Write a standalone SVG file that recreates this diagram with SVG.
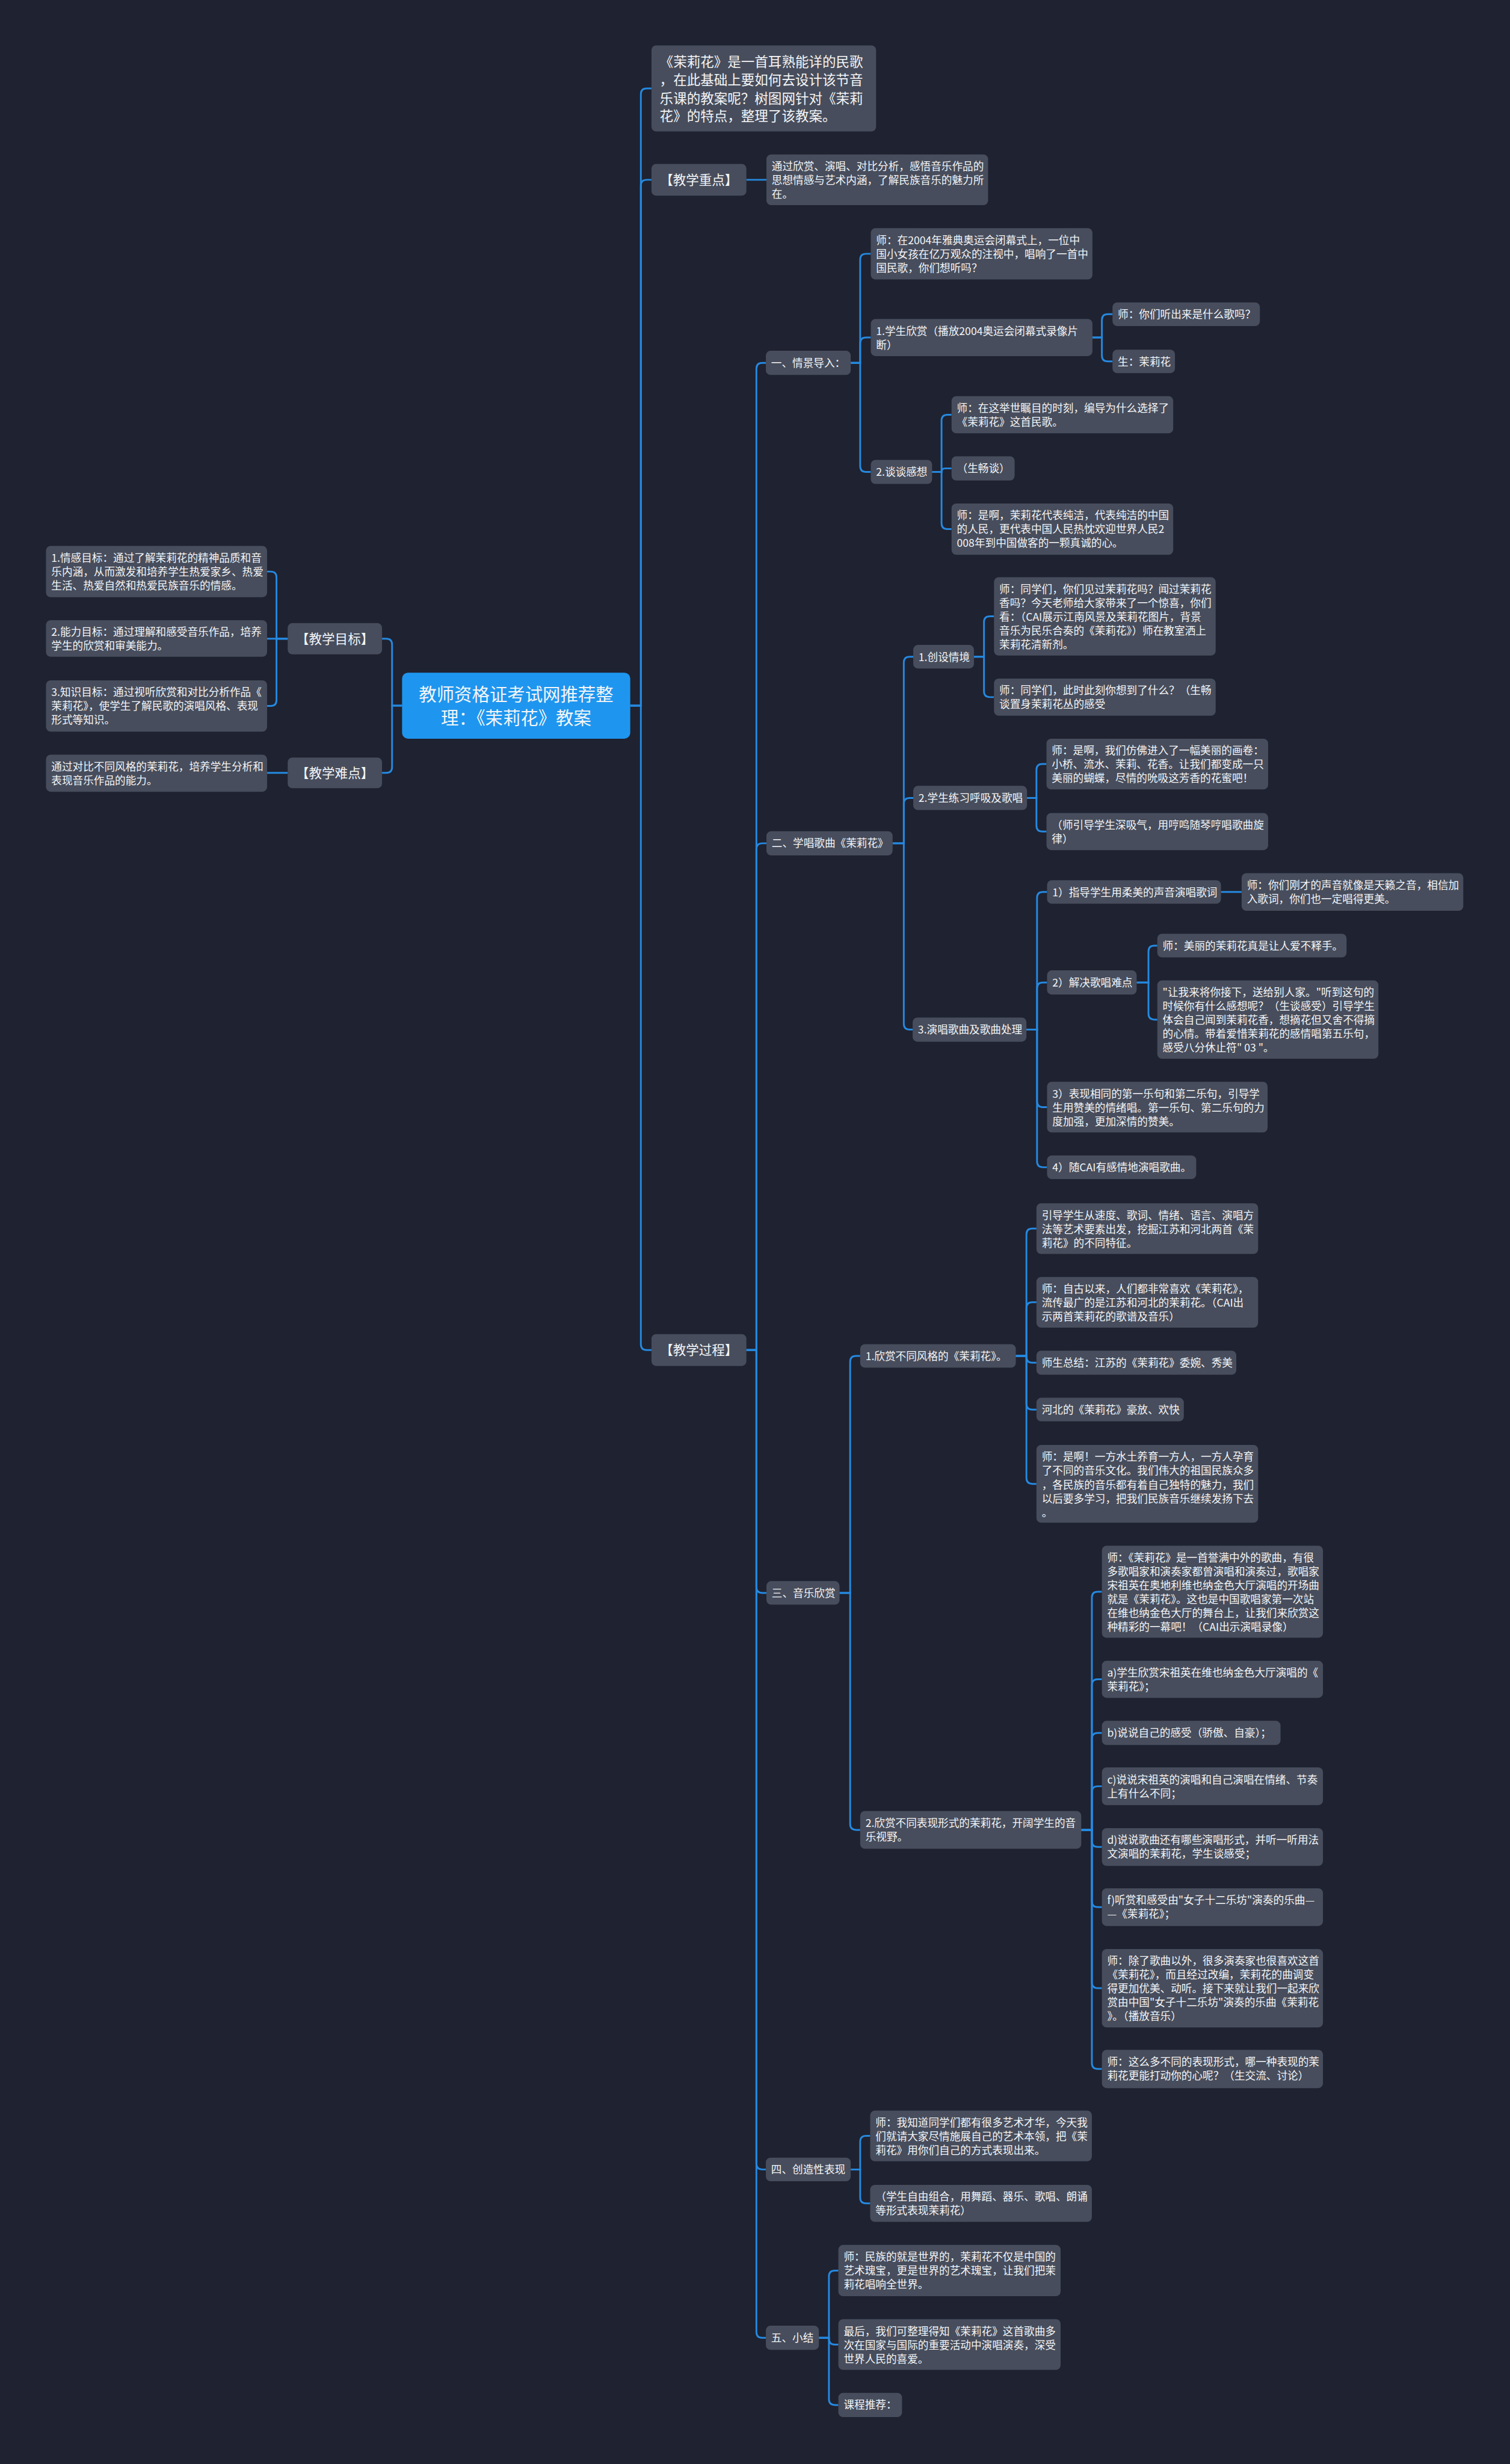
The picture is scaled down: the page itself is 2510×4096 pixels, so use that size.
<svg xmlns="http://www.w3.org/2000/svg" width="2510" height="4096" viewBox="0 0 2510 4096">
<style>
.n rect{fill:#474d5c}
.r rect{fill:#1e96ef}
text{font-family:"Noto Sans CJK SC","Microsoft YaHei",sans-serif;font-size:18px;fill:#f4f5f7}
.l1{font-size:22px}
.big{font-size:23px}
.root{font-size:30px}
.mid{text-anchor:middle}
.c path{fill:none;stroke:#2589e0;stroke-width:3}
</style>
<rect x="0" y="0" width="2510" height="4096" fill="#1f2230"/>
<g transform="scale(0.98)">
<g class="c" id="connectors">
<path d="M1069 1197H1087V160Q1087 150 1097 150H1105"/>
<path d="M1069 1197H1087V315Q1087 305 1097 305H1105"/>
<path d="M1069 1197H1087V2280Q1087 2290 1097 2290H1105"/>
<path d="M682 1197H665V1093.5Q665 1083.5 655 1083.5H648"/>
<path d="M682 1197H665V1301Q665 1311 655 1311H648"/>
<path d="M488 1083.5H469V979.5Q469 969.5 459 969.5H453"/>
<path d="M488 1083.5H453"/>
<path d="M488 1083.5H469V1187.5Q469 1197.5 459 1197.5H453"/>
<path d="M488 1311H453"/>
<path d="M1266 305H1300"/>
<path d="M1266 2290H1283V625.5Q1283 615.5 1293 615.5H1299"/>
<path d="M1266 2290H1283V1440.5Q1283 1430.5 1293 1430.5H1300"/>
<path d="M1266 2290H1283V2692Q1283 2702 1293 2702H1300"/>
<path d="M1266 2290H1283V3670Q1283 3680 1293 3680H1299"/>
<path d="M1266 2290H1283V3955.5Q1283 3965.5 1293 3965.5H1299"/>
<path d="M1443 615.5H1459V440.5Q1459 430.5 1469 430.5H1477"/>
<path d="M1443 615.5H1459V582.5Q1459 572.5 1469 572.5H1477"/>
<path d="M1443 615.5H1459V790.5Q1459 800.5 1469 800.5H1477"/>
<path d="M1853 572.5H1869V543Q1869 533 1879 533H1887"/>
<path d="M1853 572.5H1869V603Q1869 613 1879 613H1887"/>
<path d="M1581 800.5H1597V713.5Q1597 703.5 1607 703.5H1614"/>
<path d="M1581 800.5H1597Q1597 794.5 1603 794.5H1614"/>
<path d="M1581 800.5H1597V887.5Q1597 897.5 1607 897.5H1614"/>
<path d="M1514 1430.5H1533V1124Q1533 1114 1543 1114H1549"/>
<path d="M1514 1430.5H1533V1363.5Q1533 1353.5 1543 1353.5H1549"/>
<path d="M1514 1430.5H1533V1736.5Q1533 1746.5 1543 1746.5H1548"/>
<path d="M1652 1114H1669V1055.5Q1669 1045.5 1679 1045.5H1686"/>
<path d="M1652 1114H1669V1172.5Q1669 1182.5 1679 1182.5H1686"/>
<path d="M1742 1353.5H1758V1306Q1758 1296 1768 1296H1775"/>
<path d="M1742 1353.5H1758V1400.5Q1758 1410.5 1768 1410.5H1775"/>
<path d="M1741 1746.5H1759V1523Q1759 1513 1769 1513H1776"/>
<path d="M1741 1746.5H1759V1676.5Q1759 1666.5 1769 1666.5H1776"/>
<path d="M1741 1746.5H1759V1868Q1759 1878 1769 1878H1776"/>
<path d="M1741 1746.5H1759V1970Q1759 1980 1769 1980H1776"/>
<path d="M2071 1513H2106"/>
<path d="M1928 1666.5H1948V1614Q1948 1604 1958 1604H1963"/>
<path d="M1928 1666.5H1948V1719.5Q1948 1729.5 1958 1729.5H1963"/>
<path d="M1424 2702H1442V2310Q1442 2300 1452 2300H1459"/>
<path d="M1424 2702H1442V3094Q1442 3104 1452 3104H1459"/>
<path d="M1723 2300H1741V2094Q1741 2084 1751 2084H1758"/>
<path d="M1723 2300H1741V2219Q1741 2209 1751 2209H1758"/>
<path d="M1723 2300H1741V2301.5Q1741 2311.5 1751 2311.5H1758"/>
<path d="M1723 2300H1741V2381Q1741 2391 1751 2391H1758"/>
<path d="M1723 2300H1741V2507Q1741 2517 1751 2517H1758"/>
<path d="M1834 3104H1852V2710Q1852 2700 1862 2700H1869"/>
<path d="M1834 3104H1852V2858.5Q1852 2848.5 1862 2848.5H1869"/>
<path d="M1834 3104H1852V2949.5Q1852 2939.5 1862 2939.5H1869"/>
<path d="M1834 3104H1852V3040Q1852 3030 1862 3030H1869"/>
<path d="M1834 3104H1852V3123Q1852 3133 1862 3133H1869"/>
<path d="M1834 3104H1852V3225Q1852 3235 1862 3235H1869"/>
<path d="M1834 3104H1852V3362.5Q1852 3372.5 1862 3372.5H1869"/>
<path d="M1834 3104H1852V3499.5Q1852 3509.5 1862 3509.5H1869"/>
<path d="M1443 3680H1459V3633Q1459 3623 1469 3623H1476"/>
<path d="M1443 3680H1459V3727.5Q1459 3737.5 1469 3737.5H1476"/>
<path d="M1389 3965.5H1406V3861.5Q1406 3851.5 1416 3851.5H1422"/>
<path d="M1389 3965.5H1406V3967Q1406 3977 1416 3977H1422"/>
<path d="M1389 3965.5H1406V4069.5Q1406 4079.5 1416 4079.5H1422"/>
</g>

<g id="root" class="r"><rect x="682" y="1141" width="387" height="112" rx="10"/>
<text class="root mid"><tspan x="875.5" y="1189">教师资格证考试网推荐整</tspan><tspan x="875.5" y="1229">理：《茉莉花》教案</tspan></text></g>

<g id="intro" class="n"><rect x="1105" y="77" width="381" height="146" rx="8"/>
<text class="big"><tspan x="1119" y="113">《茉莉花》是一首耳熟能详的民歌</tspan><tspan x="1119" y="144">，在此基础上要如何去设计该节音</tspan><tspan x="1119" y="175">乐课的教案呢？树图网针对《茉莉</tspan><tspan x="1119" y="205">花》的特点，整理了该教案。</tspan></text></g>

<g id="zhongdian" class="n"><rect x="1105" y="278" width="161" height="54" rx="8"/>
<text class="l1 mid" x="1185.5" y="313">【教学重点】</text></g>
<g id="zhongdian-1" class="n"><rect x="1300" y="262" width="376" height="86" rx="8"/>
<text><tspan x="1309" y="289">通过欣赏、演唱、对比分析，感悟音乐作品的</tspan><tspan x="1309" y="312.5">思想情感与艺术内涵，了解民族音乐的魅力所</tspan><tspan x="1309" y="336">在。</tspan></text></g>

<g id="mubiao" class="n"><rect x="488" y="1057" width="160" height="53" rx="8"/>
<text class="l1 mid" x="568" y="1091.5">【教学目标】</text></g>
<g id="mubiao-1" class="n"><rect x="78" y="926" width="375" height="87" rx="8"/>
<text><tspan x="87" y="953">1.情感目标：通过了解茉莉花的精神品质和音</tspan><tspan x="87" y="976.5">乐内涵，从而激发和培养学生热爱家乡、热爱</tspan><tspan x="87" y="1000">生活、热爱自然和热爱民族音乐的情感。</tspan></text></g>
<g id="mubiao-2" class="n"><rect x="78" y="1052" width="375" height="62" rx="8"/>
<text><tspan x="87" y="1079">2.能力目标：通过理解和感受音乐作品，培养</tspan><tspan x="87" y="1102.5">学生的欣赏和审美能力。</tspan></text></g>
<g id="mubiao-3" class="n"><rect x="78" y="1154" width="375" height="87" rx="8"/>
<text><tspan x="87" y="1181">3.知识目标：通过视听欣赏和对比分析作品《</tspan><tspan x="87" y="1204.5">茉莉花》，使学生了解民歌的演唱风格、表现</tspan><tspan x="87" y="1228">形式等知识。</tspan></text></g>

<g id="nandian" class="n"><rect x="488" y="1285" width="160" height="52" rx="8"/>
<text class="l1 mid" x="568" y="1319">【教学难点】</text></g>
<g id="nandian-1" class="n"><rect x="78" y="1280" width="375" height="63" rx="8"/>
<text><tspan x="87" y="1307">通过对比不同风格的茉莉花，培养学生分析和</tspan><tspan x="87" y="1330.5">表现音乐作品的能力。</tspan></text></g>

<g id="guocheng" class="n"><rect x="1105" y="2263" width="161" height="54" rx="8"/>
<text class="l1 mid" x="1185.5" y="2298">【教学过程】</text></g>

<g id="s1" class="n"><rect x="1299" y="595" width="144" height="41" rx="8"/><text x="1308" y="622">一、情景导入：</text></g>
<g id="s1-a" class="n"><rect x="1477" y="387" width="376" height="87" rx="8"/>
<text><tspan x="1486" y="414">师：在2004年雅典奥运会闭幕式上，一位中</tspan><tspan x="1486" y="437.5">国小女孩在亿万观众的注视中，唱响了一首中</tspan><tspan x="1486" y="461">国民歌，你们想听吗？</tspan></text></g>
<g id="s1-b" class="n"><rect x="1477" y="541" width="376" height="63" rx="8"/>
<text><tspan x="1486" y="568">1.学生欣赏（播放2004奥运会闭幕式录像片</tspan><tspan x="1486" y="591.5">断）</tspan></text></g>
<g id="s1-b1" class="n"><rect x="1887" y="513" width="250" height="40" rx="8"/><text x="1896" y="540">师：你们听出来是什么歌吗？</text></g>
<g id="s1-b2" class="n"><rect x="1887" y="593" width="106" height="40" rx="8"/><text x="1896" y="620">生：茉莉花</text></g>
<g id="s1-c" class="n"><rect x="1477" y="780" width="104" height="41" rx="8"/><text x="1486" y="807">2.谈谈感想</text></g>
<g id="s1-c1" class="n"><rect x="1614" y="672" width="376" height="63" rx="8"/>
<text><tspan x="1623" y="699">师：在这举世瞩目的时刻，编导为什么选择了</tspan><tspan x="1623" y="722.5">《茉莉花》这首民歌。</tspan></text></g>
<g id="s1-c2" class="n"><rect x="1614" y="774" width="107" height="41" rx="8"/><text x="1623" y="801">（生畅谈）</text></g>
<g id="s1-c3" class="n"><rect x="1614" y="854" width="376" height="87" rx="8"/>
<text><tspan x="1623" y="881">师：是啊，茉莉花代表纯洁，代表纯洁的中国</tspan><tspan x="1623" y="904.5">的人民，更代表中国人民热忱欢迎世界人民2</tspan><tspan x="1623" y="928">008年到中国做客的一颗真诚的心。</tspan></text></g>

<g id="s2" class="n"><rect x="1300" y="1410" width="214" height="41" rx="8"/><text x="1309" y="1437">二、学唱歌曲《茉莉花》</text></g>
<g id="s2-1" class="n"><rect x="1549" y="1094" width="103" height="40" rx="8"/><text x="1558" y="1121">1.创设情境</text></g>
<g id="s2-1a" class="n"><rect x="1686" y="979" width="376" height="133" rx="8"/>
<text><tspan x="1695" y="1006">师：同学们，你们见过茉莉花吗？闻过茉莉花</tspan><tspan x="1695" y="1029.5">香吗？今天老师给大家带来了一个惊喜，你们</tspan><tspan x="1695" y="1053">看：（CAI展示江南风景及茉莉花图片，背景</tspan><tspan x="1695" y="1076.5">音乐为民乐合奏的《茉莉花》）师在教室洒上</tspan><tspan x="1695" y="1100">茉莉花清新剂。</tspan></text></g>
<g id="s2-1b" class="n"><rect x="1686" y="1151" width="376" height="63" rx="8"/>
<text><tspan x="1695" y="1178">师：同学们，此时此刻你想到了什么？（生畅</tspan><tspan x="1695" y="1201.5">谈置身茉莉花丛的感受</tspan></text></g>
<g id="s2-2" class="n"><rect x="1549" y="1333" width="193" height="41" rx="8"/><text x="1558" y="1360">2.学生练习呼吸及歌唱</text></g>
<g id="s2-2a" class="n"><rect x="1775" y="1253" width="376" height="86" rx="8"/>
<text><tspan x="1784" y="1280">师：是啊，我们仿佛进入了一幅美丽的画卷：</tspan><tspan x="1784" y="1303.5">小桥、流水、茉莉、花香。让我们都变成一只</tspan><tspan x="1784" y="1327">美丽的蝴蝶，尽情的吮吸这芳香的花蜜吧！</tspan></text></g>
<g id="s2-2b" class="n"><rect x="1775" y="1379" width="376" height="63" rx="8"/>
<text><tspan x="1784" y="1406">（师引导学生深吸气，用哼鸣随琴哼唱歌曲旋</tspan><tspan x="1784" y="1429.5">律）</tspan></text></g>
<g id="s2-3" class="n"><rect x="1548" y="1726" width="193" height="41" rx="8"/><text x="1557" y="1753">3.演唱歌曲及歌曲处理</text></g>
<g id="s2-3a" class="n"><rect x="1776" y="1493" width="295" height="40" rx="8"/><text x="1785" y="1520">1）指导学生用柔美的声音演唱歌词</text></g>
<g id="s2-3a1" class="n"><rect x="2106" y="1481" width="376" height="64" rx="8"/>
<text><tspan x="2115" y="1508">师：你们刚才的声音就像是天籁之音，相信加</tspan><tspan x="2115" y="1531.5">入歌词，你们也一定唱得更美。</tspan></text></g>
<g id="s2-3b" class="n"><rect x="1776" y="1646" width="152" height="41" rx="8"/><text x="1785" y="1673">2）解决歌唱难点</text></g>
<g id="s2-3b1" class="n"><rect x="1963" y="1584" width="321" height="40" rx="8"/><text x="1972" y="1611">师：美丽的茉莉花真是让人爱不释手。</text></g>
<g id="s2-3b2" class="n"><rect x="1963" y="1663" width="375" height="133" rx="8"/>
<text><tspan x="1972" y="1690">"让我来将你接下，送给别人家。"听到这句的</tspan><tspan x="1972" y="1713.5">时候你有什么感想呢？（生谈感受）引导学生</tspan><tspan x="1972" y="1737">体会自己闻到茉莉花香，想摘花但又舍不得摘</tspan><tspan x="1972" y="1760.5">的心情。带着爱惜茉莉花的感情唱第五乐句，</tspan><tspan x="1972" y="1784">感受八分休止符" 03 "。</tspan></text></g>
<g id="s2-3c" class="n"><rect x="1776" y="1835" width="374" height="86" rx="8"/>
<text><tspan x="1785" y="1862">3）表现相同的第一乐句和第二乐句，引导学</tspan><tspan x="1785" y="1885.5">生用赞美的情绪唱。第一乐句、第二乐句的力</tspan><tspan x="1785" y="1909">度加强，更加深情的赞美。</tspan></text></g>
<g id="s2-3d" class="n"><rect x="1776" y="1960" width="253" height="40" rx="8"/><text x="1785" y="1987">4）随CAI有感情地演唱歌曲。</text></g>

<g id="s3" class="n"><rect x="1300" y="2682" width="124" height="40" rx="8"/><text x="1309" y="2709">三、音乐欣赏</text></g>
<g id="s3-1" class="n"><rect x="1459" y="2280" width="264" height="40" rx="8"/><text x="1468" y="2307">1.欣赏不同风格的《茉莉花》。</text></g>
<g id="s3-1a" class="n"><rect x="1758" y="2041" width="376" height="86" rx="8"/>
<text><tspan x="1767" y="2068">引导学生从速度、歌词、情绪、语言、演唱方</tspan><tspan x="1767" y="2091.5">法等艺术要素出发，挖掘江苏和河北两首《茉</tspan><tspan x="1767" y="2115">莉花》的不同特征。</tspan></text></g>
<g id="s3-1b" class="n"><rect x="1758" y="2166" width="376" height="86" rx="8"/>
<text><tspan x="1767" y="2193">师：自古以来，人们都非常喜欢《茉莉花》，</tspan><tspan x="1767" y="2216.5">流传最广的是江苏和河北的茉莉花。（CAI出</tspan><tspan x="1767" y="2240">示两首茉莉花的歌谱及音乐）</tspan></text></g>
<g id="s3-1c" class="n"><rect x="1758" y="2291" width="339" height="41" rx="8"/><text x="1767" y="2318">师生总结：江苏的《茉莉花》委婉、秀美</text></g>
<g id="s3-1d" class="n"><rect x="1758" y="2371" width="250" height="40" rx="8"/><text x="1767" y="2398">河北的《茉莉花》豪放、欢快</text></g>
<g id="s3-1e" class="n"><rect x="1758" y="2451" width="376" height="132" rx="8"/>
<text><tspan x="1767" y="2478">师：是啊！一方水土养育一方人，一方人孕育</tspan><tspan x="1767" y="2501.5">了不同的音乐文化。我们伟大的祖国民族众多</tspan><tspan x="1767" y="2525">，各民族的音乐都有着自己独特的魅力，我们</tspan><tspan x="1767" y="2548.5">以后要多学习，把我们民族音乐继续发扬下去</tspan><tspan x="1767" y="2572">。</tspan></text></g>
<g id="s3-2" class="n"><rect x="1459" y="3072" width="375" height="64" rx="8"/>
<text><tspan x="1468" y="3099">2.欣赏不同表现形式的茉莉花，开阔学生的音</tspan><tspan x="1468" y="3122.5">乐视野。</tspan></text></g>
<g id="s3-2a" class="n"><rect x="1869" y="2622" width="375" height="156" rx="8"/>
<text><tspan x="1878" y="2649">师：《茉莉花》是一首誉满中外的歌曲，有很</tspan><tspan x="1878" y="2672.5">多歌唱家和演奏家都曾演唱和演奏过，歌唱家</tspan><tspan x="1878" y="2696">宋祖英在奥地利维也纳金色大厅演唱的开场曲</tspan><tspan x="1878" y="2719.5">就是《茉莉花》。这也是中国歌唱家第一次站</tspan><tspan x="1878" y="2743">在维也纳金色大厅的舞台上，让我们来欣赏这</tspan><tspan x="1878" y="2766.5">种精彩的一幕吧！（CAI出示演唱录像）</tspan></text></g>
<g id="s3-2b" class="n"><rect x="1869" y="2817" width="375" height="63" rx="8"/>
<text><tspan x="1878" y="2844">a)学生欣赏宋祖英在维也纳金色大厅演唱的《</tspan><tspan x="1878" y="2867.5">茉莉花》；</tspan></text></g>
<g id="s3-2c" class="n"><rect x="1869" y="2919" width="303" height="41" rx="8"/><text x="1878" y="2946">b)说说自己的感受（骄傲、自豪）；</text></g>
<g id="s3-2d" class="n"><rect x="1869" y="2998" width="375" height="64" rx="8"/>
<text><tspan x="1878" y="3025">c)说说宋祖英的演唱和自己演唱在情绪、节奏</tspan><tspan x="1878" y="3048.5">上有什么不同；</tspan></text></g>
<g id="s3-2e" class="n"><rect x="1869" y="3101" width="375" height="64" rx="8"/>
<text><tspan x="1878" y="3128">d)说说歌曲还有哪些演唱形式，并听一听用法</tspan><tspan x="1878" y="3151.5">文演唱的茉莉花，学生谈感受；</tspan></text></g>
<g id="s3-2f" class="n"><rect x="1869" y="3203" width="375" height="64" rx="8"/>
<text><tspan x="1878" y="3230">f)听赏和感受由"女子十二乐坊"演奏的乐曲—</tspan><tspan x="1878" y="3253.5">—《茉莉花》；</tspan></text></g>
<g id="s3-2g" class="n"><rect x="1869" y="3306" width="375" height="133" rx="8"/>
<text><tspan x="1878" y="3333">师：除了歌曲以外，很多演奏家也很喜欢这首</tspan><tspan x="1878" y="3356.5">《茉莉花》，而且经过改编，茉莉花的曲调变</tspan><tspan x="1878" y="3380">得更加优美、动听。接下来就让我们一起来欣</tspan><tspan x="1878" y="3403.5">赏由中国"女子十二乐坊"演奏的乐曲《茉莉花</tspan><tspan x="1878" y="3427">》。（播放音乐）</tspan></text></g>
<g id="s3-2h" class="n"><rect x="1869" y="3477" width="375" height="65" rx="8"/>
<text><tspan x="1878" y="3504">师：这么多不同的表现形式，哪一种表现的茉</tspan><tspan x="1878" y="3527.5">莉花更能打动你的心呢？（生交流、讨论）</tspan></text></g>

<g id="s4" class="n"><rect x="1299" y="3660" width="144" height="40" rx="8"/><text x="1308" y="3687">四、创造性表现</text></g>
<g id="s4-a" class="n"><rect x="1476" y="3580" width="376" height="86" rx="8"/>
<text><tspan x="1485" y="3607">师：我知道同学们都有很多艺术才华，今天我</tspan><tspan x="1485" y="3630.5">们就请大家尽情施展自己的艺术本领，把《茉</tspan><tspan x="1485" y="3654">莉花》用你们自己的方式表现出来。</tspan></text></g>
<g id="s4-b" class="n"><rect x="1476" y="3706" width="376" height="63" rx="8"/>
<text><tspan x="1485" y="3733">（学生自由组合，用舞蹈、器乐、歌唱、朗诵</tspan><tspan x="1485" y="3756.5">等形式表现茉莉花）</tspan></text></g>

<g id="s5" class="n"><rect x="1299" y="3945" width="90" height="41" rx="8"/><text x="1308" y="3972">五、小结</text></g>
<g id="s5-a" class="n"><rect x="1422" y="3808" width="377" height="87" rx="8"/>
<text><tspan x="1431" y="3835">师：民族的就是世界的，茉莉花不仅是中国的</tspan><tspan x="1431" y="3858.5">艺术瑰宝，更是世界的艺术瑰宝，让我们把茉</tspan><tspan x="1431" y="3882">莉花唱响全世界。</tspan></text></g>
<g id="s5-b" class="n"><rect x="1422" y="3934" width="377" height="86" rx="8"/>
<text><tspan x="1431" y="3961">最后，我们可整理得知《茉莉花》这首歌曲多</tspan><tspan x="1431" y="3984.5">次在国家与国际的重要活动中演唱演奏，深受</tspan><tspan x="1431" y="4008">世界人民的喜爱。</tspan></text></g>
<g id="s5-c" class="n"><rect x="1422" y="4059" width="108" height="41" rx="8"/><text x="1431" y="4086">课程推荐：</text></g>
</g>
</svg>
